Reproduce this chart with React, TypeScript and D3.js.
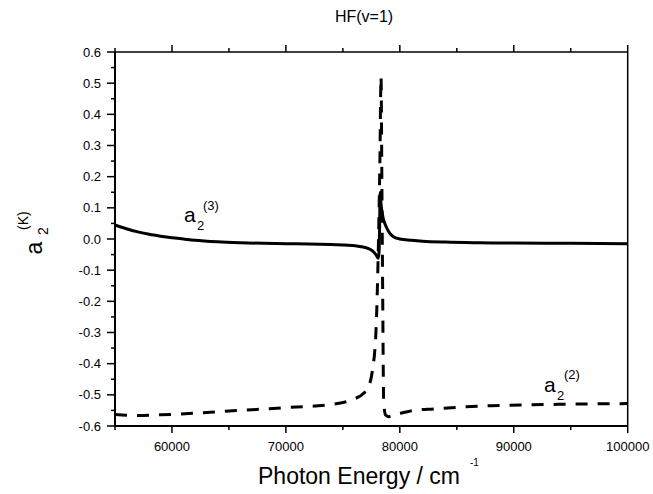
import React from "react";
import * as d3 from "d3";

const W = 653;
const H = 494;

// a2^(3) solid curve
const solidE = [55000, 56000, 57000, 58000, 59000, 60000, 61000, 62000, 64000, 66000, 68000, 70000, 72000, 74000, 75500, 76500, 77200, 77600, 77900, 78100, 78180, 78230, 78270, 78330, 78420, 78550, 78700, 79000, 79400, 80000, 81000, 82000, 84000, 87000, 90000, 95000, 100000];
const solidV = [0.045, 0.033, 0.023, 0.015, 0.009, 0.004, 0.0, -0.004, -0.009, -0.012, -0.014, -0.015, -0.016, -0.018, -0.02, -0.024, -0.03, -0.038, -0.05, -0.062, -0.04, 0.05, 0.15, 0.12, 0.09, 0.065, 0.048, 0.025, 0.008, 0.0, -0.004, -0.007, -0.01, -0.012, -0.013, -0.014, -0.015];

// a2^(2) dashed curve
const dashE = [55000, 57000, 59000, 62000, 64500, 67000, 70000, 72500, 74000, 75200, 76000, 76800, 77300, 77600, 77900, 78100, 78250, 78350, 78430, 78500, 78580, 78750, 79000, 79300, 80000, 81200, 83000, 85500, 88000, 91000, 95000, 100000];
const dashV = [-0.563, -0.566, -0.564, -0.559, -0.553, -0.548, -0.541, -0.536, -0.531, -0.523, -0.513, -0.496, -0.47, -0.42, -0.3, -0.05, 0.25, 0.52, 0.15, -0.2, -0.52, -0.565, -0.57, -0.567, -0.56, -0.55, -0.545, -0.539, -0.535, -0.532, -0.53, -0.528];

const xTicks = [60000, 70000, 80000, 90000, 100000];
const yTicks = [-0.6, -0.5, -0.4, -0.3, -0.2, -0.1, 0.0, 0.1, 0.2, 0.3, 0.4, 0.5, 0.6];

const L = 115, R = 627.7, T = 52, B = 426;

export default function App() {
  const x = d3.scaleLinear().domain([55000, 100000]).range([L, R]);
  const y = d3.scaleLinear().domain([-0.6, 0.6]).range([B, T]);
  const line = d3.line<[number, number]>().x(d => x(d[0])).y(d => y(d[1])).curve(d3.curveMonotoneX);
  const solid = line(solidE.map((e, i) => [e, solidV[i]]) as [number, number][]) || "";
  const dashed = line(dashE.map((e, i) => [e, dashV[i]]) as [number, number][]) || "";

  const xMinor = d3.range(55000, 100001, 5000).filter(v => !xTicks.includes(v));
  const yMinor = d3.range(-0.55, 0.6, 0.1);
  const font = "Arial, 'Liberation Sans', sans-serif";

  return (
    <svg width={W} height={H} style={{ position: "absolute", left: 0, top: 0, background: "#fff" }} fontFamily={font}>
      <rect x={0} y={0} width={W} height={H} fill="#fff" />
      <text x={364} y={22} fontSize={16} textAnchor="middle">HF(v=1)</text>
      {/* frame */}
      <line x1={L} y1={T} x2={L} y2={B} stroke="#000" strokeWidth={2} />
      <line x1={L} y1={B} x2={R} y2={B} stroke="#000" strokeWidth={2} />
      <line x1={L} y1={T} x2={R} y2={T} stroke="#000" strokeWidth={1.5} />
      <line x1={R} y1={T} x2={R} y2={B} stroke="#000" strokeWidth={1.5} />
      {/* y ticks */}
      {yTicks.map(v => (
        <g key={"y" + v}>
          <line x1={L - 8} x2={L} y1={y(v)} y2={y(v)} stroke="#000" strokeWidth={1.5} />
          <text x={101} y={y(v) + 4.5} fontSize={13} textAnchor="end">{v.toFixed(1)}</text>
        </g>
      ))}
      {yMinor.map(v => (
        <line key={"ym" + v} x1={L - 4} x2={L} y1={y(v)} y2={y(v)} stroke="#000" strokeWidth={1.5} />
      ))}
      {/* x ticks */}
      {xTicks.map(v => (
        <g key={"x" + v}>
          <line x1={x(v)} x2={x(v)} y1={B} y2={B + 7} stroke="#000" strokeWidth={1.5} />
          <line x1={x(v)} x2={x(v)} y1={T} y2={T - 7} stroke="#000" strokeWidth={1.5} />
          <text x={x(v)} y={451} fontSize={13} textAnchor="middle">{v}</text>
        </g>
      ))}
      {xMinor.map(v => (
        <g key={"xm" + v}>
          <line x1={x(v)} x2={x(v)} y1={B} y2={B + 4} stroke="#000" strokeWidth={1.5} />
          <line x1={x(v)} x2={x(v)} y1={T} y2={T - 4} stroke="#000" strokeWidth={1.5} />
        </g>
      ))}
      {/* curves */}
      <path d={dashed} fill="none" stroke="#000" strokeWidth={3} strokeDasharray="12 10" />
      <path d={solid} fill="none" stroke="#000" strokeWidth={3} />
      {/* curve labels */}
      <text x={184} y={222} fontSize={21}>a</text>
      <text x={197} y={230} fontSize={13}>2</text>
      <text x={203} y={210} fontSize={13}>(3)</text>
      <text x={544} y={392} fontSize={21}>a</text>
      <text x={557} y={400} fontSize={13}>2</text>
      <text x={564} y={379} fontSize={13}>(2)</text>
      {/* axis titles */}
      <text x={359} y={484} fontSize={23} textAnchor="middle">Photon Energy / cm</text>
      <text x={470} y={466} fontSize={10}>-1</text>
      <g transform="translate(42,240) rotate(-90)">
        <text x={-8} y={0} fontSize={23} textAnchor="middle">a</text>
        <text x={5} y={6} fontSize={14}>2</text>
        <text x={10} y={-14} fontSize={14}>(K)</text>
      </g>
    </svg>
  );
}
